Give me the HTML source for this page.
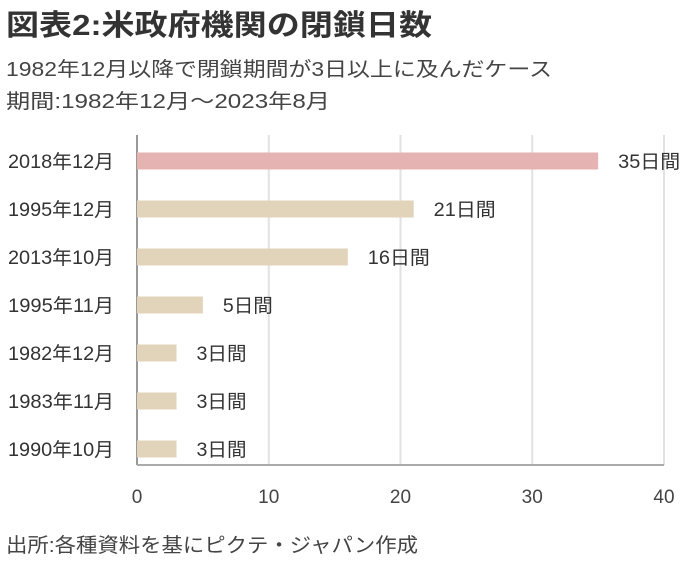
<!DOCTYPE html>
<html><head><meta charset="utf-8"><style>
body{margin:0;background:#fff;width:700px;height:563px;overflow:hidden;font-family:"Liberation Sans","Noto Sans CJK JP",sans-serif;color:#333}
</style></head><body>
<svg width="700" height="563" style="font-family:'Liberation Sans','Noto Sans CJK JP',sans-serif">
<text x="6" y="35" font-size="29" font-weight="bold" fill="#333" textLength="426" lengthAdjust="spacingAndGlyphs">図表2:米政府機関の閉鎖日数</text>
<text x="6" y="76" font-size="20" fill="#444" textLength="546" lengthAdjust="spacingAndGlyphs">1982年12月以降で閉鎖期間が3日以上に及んだケース</text>
<text x="6" y="108" font-size="20" fill="#444" textLength="324" lengthAdjust="spacingAndGlyphs">期間:1982年12月～2023年8月</text>
<g id="plot"></g>
<text x="6" y="552" font-size="20" fill="#444" textLength="412" lengthAdjust="spacingAndGlyphs">出所:各種資料を基にピクテ・ジャパン作成</text>
</svg>
<script>
const categories=["2018年12月","1995年12月","2013年10月","1995年11月","1982年12月","1983年11月","1990年10月"];
const values=[35,21,16,5,3,3,3];
const ticks=[0,10,20,30,40];
const x0=137,x1=664,yTop=135,yBot=465,rowStart=161,rowStep=48,bh=17;
const xs=v=>x0+v/40*(x1-x0);
const ys=i=>rowStart+i*rowStep;
const g=document.getElementById('plot');const NS='http://www.w3.org/2000/svg';
function mk(t,a){const e=document.createElementNS(NS,t);for(const k in a)e.setAttribute(k,a[k]);g.appendChild(e);return e;}
ticks.forEach(t=>{
 const l=mk('line',{x1:xs(t),x2:xs(t),y1:yTop,y2:yBot,stroke:t===0?'#999':'#e2e2e2','stroke-width':2});
 
 
 const tx=mk('text',{x:xs(t),y:503,'font-size':19,fill:'#444','text-anchor':'middle'});tx.textContent=t;
 
 
});
const ax=mk('line',{x1:x0,x2:x1,y1:yBot,y2:yBot,stroke:'#aaa','stroke-width':2});


categories.forEach((c,i)=>{
 const y=ys(i);
 const lb=mk('text',{x:8,y:y+7,'font-size':19,fill:'#333',textLength:106,lengthAdjust:'spacingAndGlyphs'});lb.textContent=c;
 
 
 const r=mk('rect',{x:x0,y:y-bh/2,width:xs(values[i])-x0,height:bh,fill:i===0?'#e6b3b3':'#e1d4ba'});
 
 
 const s=values[i]+'日間';
 const v=mk('text',{x:xs(values[i])+20,y:y+7,'font-size':19,fill:'#333',textLength:s.length>3?62:50,lengthAdjust:'spacingAndGlyphs'});v.textContent=s;
 
 
});
</script>
</body></html>
